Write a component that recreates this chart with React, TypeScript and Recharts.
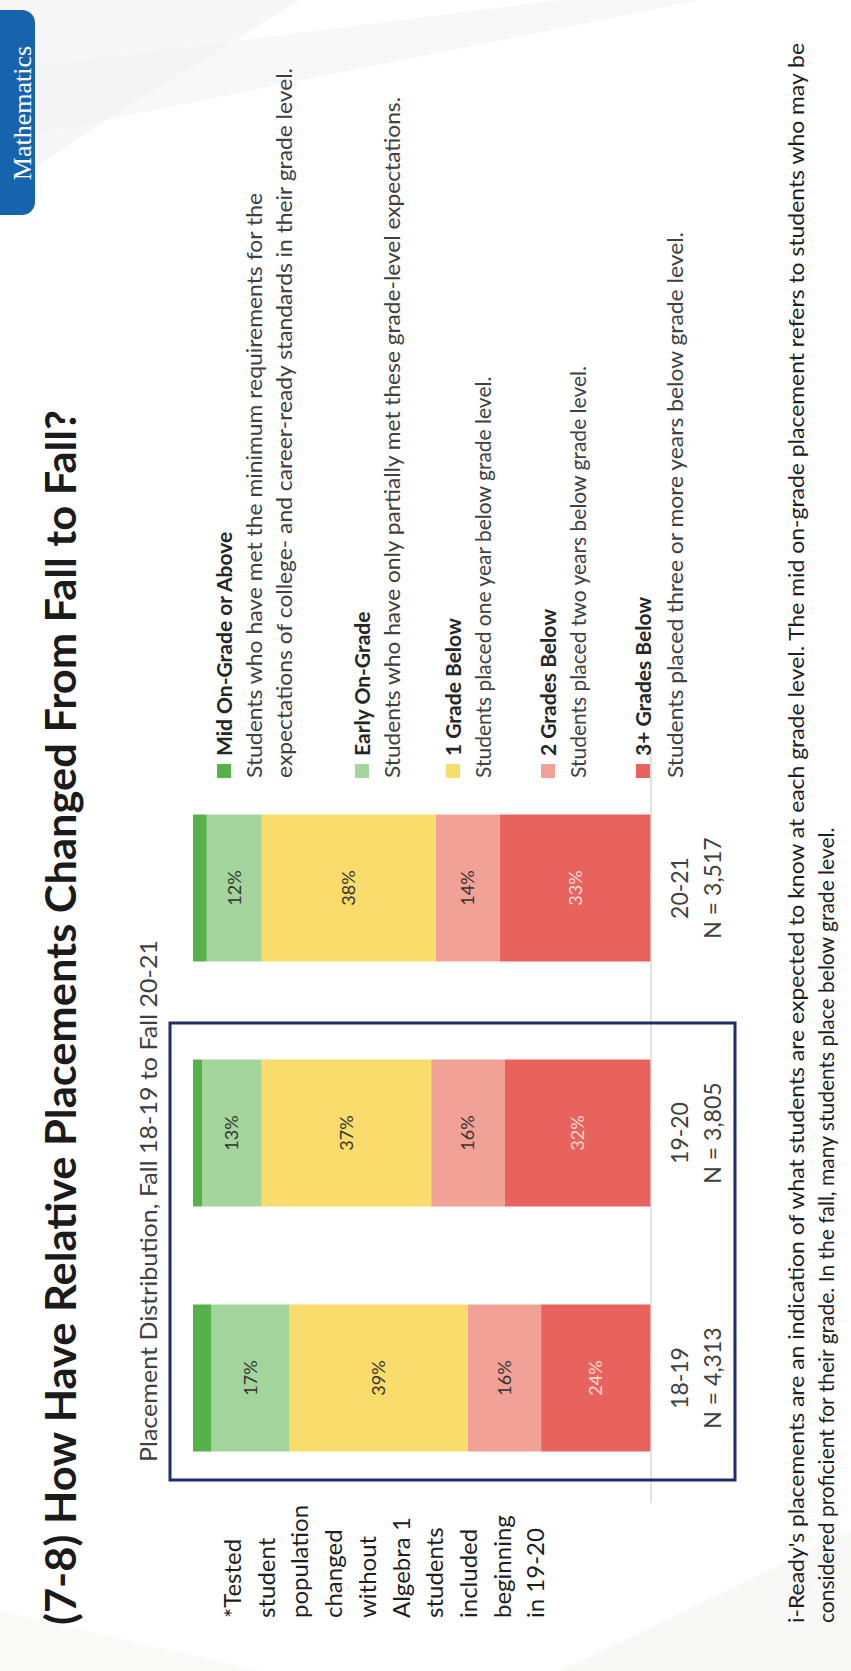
import React from 'react';
import { BarChart, Bar, XAxis, YAxis, LabelList } from 'recharts';

// Placement distribution (percent of tested students), Fall 18-19 to Fall 20-21
const years = ['18-19', '19-20', '20-21'];
const sampleSizes = ['N = 4,313', 'N = 3,805', 'N = 3,517'];
const midOnGrade = [4, 2, 3];
const earlyOnGrade = [17, 13, 12];
const oneGradeBelow = [39, 37, 38];
const twoGradesBelow = [16, 16, 14];
const threePlusBelow = [24, 32, 33];

const legendNames = [
    'Mid On-Grade or Above',
    'Early On-Grade',
    '1 Grade Below',
    '2 Grades Below',
    '3+ Grades Below',
];
const legendNotes = [
    [
        'Students who have met the minimum requirements for the',
        'expectations of college- and career-ready standards in their grade level.',
    ],
    ['Students who have only partially met these grade-level expectations.'],
    ['Students placed one year below grade level.'],
    ['Students placed two years below grade level.'],
    ['Students placed three or more years below grade level.'],
];
const sideNote = [
    '*Tested',
    'student',
    'population',
    'changed',
    'without',
    'Algebra 1',
    'students',
    'included',
    'beginning',
    'in 19-20',
];
const footnote = [
    "i-Ready's placements are an indication of what students are expected to know at each grade level. The mid on-grade placement refers to students who may be",
    'considered proficient for their grade. In the fall, many students place below grade level.',
];

const COLORS = ['#57b14b', '#a3d49b', '#f9dc6b', '#f1a196', '#e9635e'];
const FONT = 'Lato, "Open Sans", sans-serif';

// slide is drawn landscape (1671 x 851) and turned a quarter turn to the left
const SLIDE_W = 1671;
const SLIDE_H = 851;

const chartData = years.map((year, i) => ({
    year,
    mid: midOnGrade[i],
    early: earlyOnGrade[i],
    one: oneGradeBelow[i],
    two: twoGradesBelow[i],
    three: threePlusBelow[i],
}));

const pct = (v: number) => `${v}%`;

function YearTick(props: any) {
    const { x, y, payload } = props;
    const idx = years.indexOf(payload.value);
    return (
        <g>
            <text x={x} y={y + 37} textAnchor="middle" fontSize={23} fill="#404040" fontFamily={FONT}>
                {payload.value}
            </text>
            <text x={x} y={y + 70} textAnchor="middle" fontSize={23} fill="#404040" fontFamily={FONT}>
                {sampleSizes[idx]}
            </text>
        </g>
    );
}

// legend rows: baseline of the bold name, then of each note line
const legendRows = [
    [232, 262, 292],
    [370, 400],
    [461, 491],
    [556, 586],
    [651, 683],
];
const noteLengths: Record<string, number> = {
    'Students who have met the minimum requirements for the': 585,
    'expectations of college- and career-ready standards in their grade level.': 710,
    'Students who have only partially met these grade-level expectations.': 681,
    'Students placed three or more years below grade level.': 546,
};

export default function App() {
    return (
        <div
            style={{
                position: 'absolute',
                left: 0,
                top: 0,
                width: SLIDE_H,
                height: SLIDE_W,
                overflow: 'hidden',
                background: '#ffffff',
            }}
        >
            <div
                style={{
                    position: 'absolute',
                    left: 0,
                    top: 0,
                    width: SLIDE_W,
                    height: SLIDE_H,
                    transformOrigin: '0 0',
                    transform: `translate(0px, ${SLIDE_W}px) rotate(-90deg)`,
                    fontFamily: FONT,
                }}
            >
                {/* faint background swooshes */}
                <svg width={SLIDE_W} height={SLIDE_H} style={{ position: 'absolute', left: 0, top: 0 }}>
                    <polygon points="1480,0 1671,0 1671,300 1560,120" fill="#f3f2f1" opacity={0.6} />
                    <polygon points="1530,0 1600,0 1671,560 1671,700" fill="#f1f0ef" opacity={0.45} />
                    <polygon points="0,560 140,851 0,851" fill="#f2f1f0" opacity={0.5} />
                    <polygon points="0,0 60,0 0,260" fill="#f4f3f2" opacity={0.5} />
                </svg>

                <div style={{ position: 'absolute', left: 0, top: 0 }}>
                    <BarChart
                        width={SLIDE_W}
                        height={SLIDE_H}
                        data={chartData}
                        margin={{ top: 193, right: 753, bottom: 140, left: 168 }}
                    >
                        <XAxis
                            dataKey="year"
                            height={60}
                            interval={0}
                            padding={{ left: 2.5, right: 12.5 }}
                            axisLine={{ stroke: '#d9d9d9', strokeWidth: 1.5 }}
                            tickLine={false}
                            tickSize={0}
                            tickMargin={0}
                            tick={<YearTick />}
                        />
                        <YAxis hide domain={[0, 100]} />
                        <Bar dataKey="three" stackId="a" fill={COLORS[4]} barSize={147} isAnimationActive={false}>
                            <LabelList dataKey="three" position="center" formatter={pct} fill="#fadcd8" fontSize={18} fontFamily={FONT} />
                        </Bar>
                        <Bar dataKey="two" stackId="a" fill={COLORS[3]} barSize={147} isAnimationActive={false}>
                            <LabelList dataKey="two" position="center" formatter={pct} fill="#333333" fontSize={18} fontFamily={FONT} />
                        </Bar>
                        <Bar dataKey="one" stackId="a" fill={COLORS[2]} barSize={147} isAnimationActive={false}>
                            <LabelList dataKey="one" position="center" formatter={pct} fill="#333333" fontSize={18} fontFamily={FONT} />
                        </Bar>
                        <Bar dataKey="early" stackId="a" fill={COLORS[1]} barSize={147} isAnimationActive={false}>
                            <LabelList dataKey="early" position="center" formatter={pct} fill="#333333" fontSize={18} fontFamily={FONT} />
                        </Bar>
                        <Bar dataKey="mid" stackId="a" fill={COLORS[0]} barSize={147} isAnimationActive={false} />
                    </BarChart>
                </div>

                <svg
                    width={SLIDE_W}
                    height={SLIDE_H}
                    style={{ position: 'absolute', left: 0, top: 0, pointerEvents: 'none' }}
                    fontFamily={FONT}
                >
                    {/* subject tab */}
                    <rect x={1456} y={-14} width={205} height={49} rx={13} fill="#1763ad" />
                    <text
                        x={1558}
                        y={31}
                        textAnchor="middle"
                        fontSize={26}
                        fill="#ffffff"
                        fontFamily='"Liberation Serif", "DejaVu Serif", serif'
                    >
                        Mathematics
                    </text>

                    <text
                        x={46}
                        y={76}
                        fontSize={42}
                        fontWeight={700}
                        fill="#1b1b1b"
                        textLength={1215}
                        lengthAdjust="spacingAndGlyphs"
                    >
                        (7-8) How Have Relative Placements Changed From Fall to Fall?
                    </text>

                    <text x={209} y={157} fontSize={24} fill="#404040" textLength={522} lengthAdjust="spacingAndGlyphs">
                        Placement Distribution, Fall 18-19 to Fall 20-21
                    </text>

                    <rect x={191} y={170} width={457} height={565} fill="none" stroke="#1f2d6b" strokeWidth={3} />

                    {sideNote.map((line, i) => (
                        <text key={line} x={53} y={241 + i * 33.7} fontSize={24} fill="#1e1e1e">
                            {line}
                        </text>
                    ))}

                    {legendNames.map((name, i) => {
                        const rows = legendRows[i];
                        return (
                            <g key={name}>
                                <rect x={893} y={rows[0] - 15} width={14} height={14} fill={COLORS[i]} />
                                <text x={915} y={rows[0]} fontSize={21} fontWeight={700} fill="#262626">
                                    {name}
                                </text>
                                {legendNotes[i].map((note, j) => (
                                    <text
                                        key={note}
                                        x={893}
                                        y={rows[j + 1]}
                                        fontSize={21}
                                        fill="#404040"
                                        textLength={noteLengths[note]}
                                        lengthAdjust={noteLengths[note] ? 'spacingAndGlyphs' : undefined}
                                    >
                                        {note}
                                    </text>
                                ))}
                            </g>
                        );
                    })}

                    <text x={48} y={804} fontSize={21} fill="#1e1e1e" textLength={1580} lengthAdjust="spacingAndGlyphs">
                        {footnote[0]}
                    </text>
                    <text x={48} y={834} fontSize={21} fill="#1e1e1e">
                        {footnote[1]}
                    </text>
                </svg>
            </div>
        </div>
    );
}
